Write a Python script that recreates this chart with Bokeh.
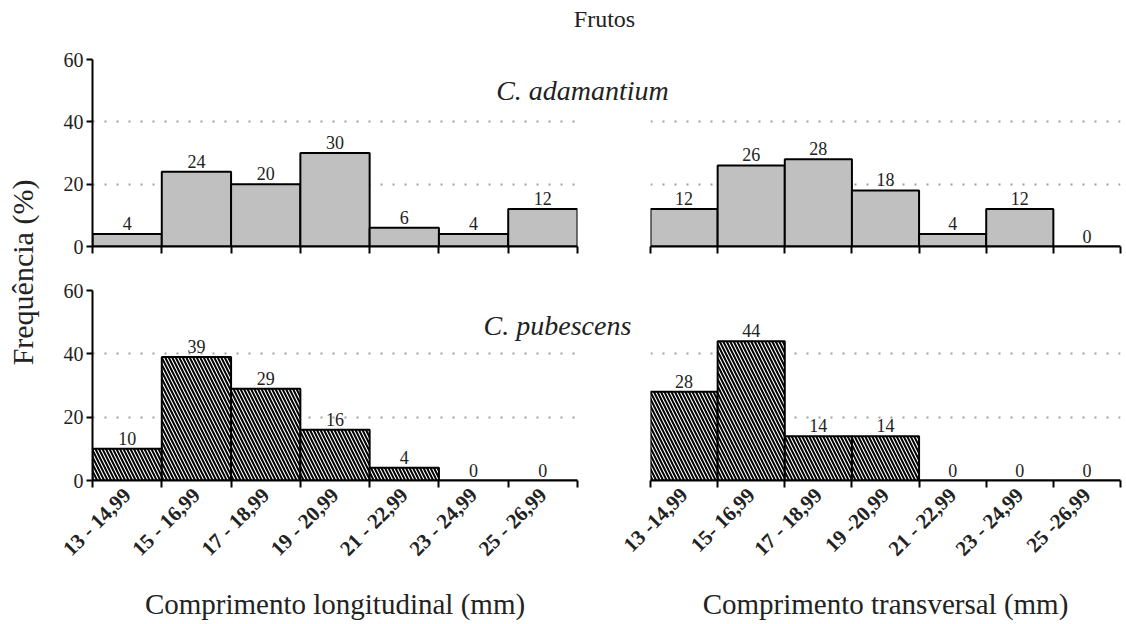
import math
from bokeh.plotting import figure
from bokeh.models import Range1d, FixedTicker, ColumnDataSource, Label, GridBox
from bokeh.embed import file_html
from bokeh.resources import INLINE
from bokeh.core.properties import value

# ---- data ----
classes_long = ["13 - 14,99", "15 - 16,99", "17 - 18,99", "19 - 20,99",
                "21 - 22,99", "23 - 24,99", "25 - 26,99"]
classes_trans = ["13 -14,99", "15- 16,99", "17 - 18,99", "19 -20,99",
                 "21 - 22,99", "23 - 24,99", "25 -26,99"]
adam_long = [4, 24, 20, 30, 6, 4, 12]
adam_trans = [12, 26, 28, 18, 4, 12, 0]
pub_long = [10, 39, 29, 16, 4, 0, 0]
pub_trans = [28, 44, 14, 14, 0, 0, 0]
y_ticks = [0, 20, 40, 60]

FONT = "Liberation Serif"
TXT = "#222222"


def panel(vals, cats, width, height, bl, br, bt, bb, hatched, show_y, show_cats, xlabel=""):
    p = figure(width=width, height=height, x_range=Range1d(0, len(cats)),
               y_range=Range1d(0, 60), toolbar_location=None, output_backend="svg",
               min_border_left=bl, min_border_right=br, min_border_top=bt,
               min_border_bottom=bb)
    n = len(cats)
    centers = [i + 0.5 for i in range(n)]
    edges = list(range(n + 1))
    src = ColumnDataSource(dict(x=centers, top=vals, lab=[str(v) for v in vals]))
    if hatched:
        p.vbar(x="x", top="top", bottom=0, width=1, source=src, fill_color="white",
               line_color="black", line_width=2, hatch_pattern="\\", hatch_color="black",
               hatch_scale=7, hatch_weight=2)
    else:
        p.vbar(x="x", top="top", bottom=0, width=1, source=src, fill_color="#c0c0c0",
               line_color="black", line_width=2)
    p.text(x="x", y="top", text="lab", source=src, text_align="center",
           text_baseline="bottom", y_offset=-4, text_font=value(FONT),
           text_font_size="18px", text_color=TXT)

    xa = p.xaxis[0]
    xa.ticker = FixedTicker(ticks=centers if show_cats else [], minor_ticks=edges)
    xa.axis_line_width = 2
    xa.axis_line_color = "black"
    xa.major_tick_line_color = None
    xa.major_tick_out = 7
    xa.minor_tick_line_color = "black"
    xa.minor_tick_line_width = 2
    xa.minor_tick_out = 7
    xa.minor_tick_in = 0
    if show_cats:
        xa.major_label_overrides = {c: t for c, t in zip(centers, cats)}
        xa.major_label_orientation = math.pi / 4
        xa.major_label_text_font = FONT
        xa.major_label_text_font_style = "bold"
        xa.major_label_text_font_size = "21px"
        xa.major_label_text_color = TXT
        xa.major_label_standoff = 4
        xa.axis_label = xlabel
        xa.axis_label_text_font = FONT
        xa.axis_label_text_font_style = "normal"
        xa.axis_label_text_font_size = "29px"
        xa.axis_label_text_color = TXT
        xa.axis_label_standoff = 16

    ya = p.yaxis[0]
    ya.ticker = FixedTicker(ticks=y_ticks)
    if show_y:
        ya.axis_line_width = 2
        ya.axis_line_color = "black"
        ya.major_tick_line_width = 2
        ya.major_tick_line_color = "black"
        ya.major_tick_out = 6
        ya.major_tick_in = 0
        ya.major_label_standoff = 3
        ya.major_label_text_font = FONT
        ya.major_label_text_font_size = "20px"
        ya.major_label_text_color = TXT
    else:
        ya.visible = False

    p.xgrid.visible = False
    p.ygrid.ticker = FixedTicker(ticks=y_ticks[1:])
    p.ygrid.grid_line_color = "#a0a0a0"
    p.ygrid.grid_line_width = 2
    p.ygrid.grid_line_dash = "2 10"
    p.outline_line_color = None
    p.background_fill_color = "white"
    p.border_fill_color = "white"
    return p


WL, WR = 608, 518
HT, HB = 270, 354

tl = panel(adam_long, classes_long, WL, HT, 92, 31, 59, 24, False, True, False)
tr = panel(adam_trans, classes_trans, WR, HT, 42, 6, 59, 24, False, False, False)
bl = panel(pub_long, classes_long, WL, HB, 92, 31, 20, 144, True, True, True,
           "Comprimento longitudinal (mm)")
br = panel(pub_trans, classes_trans, WR, HB, 42, 6, 20, 144, True, False, True,
           "Comprimento transversal (mm)")

# transparent overlay for the free texts that span several panels
W, H = WL + WR, HT + HB
ov = figure(width=W, height=H, x_range=Range1d(0, W), y_range=Range1d(0, H),
            toolbar_location=None, output_backend="svg", min_border=0,
            x_axis_type=None, y_axis_type=None)
ov.frame_align = False
ov.grid.visible = False
ov.outline_line_color = None
ov.background_fill_color = None
ov.border_fill_color = None

ov.add_layout(Label(x=604, y=H - 18, text="Frutos", text_align="center",
                    text_baseline="middle", text_font=FONT, text_font_size="24px",
                    text_color=TXT))
ov.add_layout(Label(x=582, y=H - 90, text="C. adamantium", text_align="center",
                    text_baseline="middle", text_font=FONT, text_font_style="italic",
                    text_font_size="28px", text_color=TXT))
ov.add_layout(Label(x=557, y=H - 325, text="C. pubescens", text_align="center",
                    text_baseline="middle", text_font=FONT, text_font_style="italic",
                    text_font_size="28px", text_color=TXT))
ov.add_layout(Label(x=22, y=H - 272, text="Frequência (%)", text_align="center",
                    text_baseline="middle", angle=math.pi / 2, text_font=FONT,
                    text_font_size="30px", text_color=TXT))

grid = GridBox(children=[(tl, 0, 0), (tr, 0, 1), (bl, 1, 0), (br, 1, 1),
                         (ov, 0, 0, 2, 2)], spacing=0)

open("out.html", "w").write(file_html(grid, INLINE))
